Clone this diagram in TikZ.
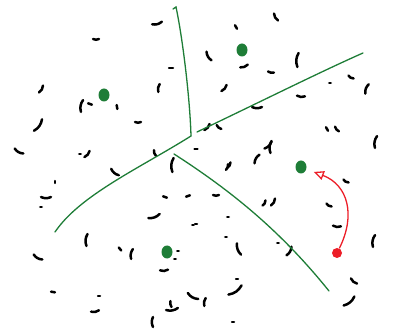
\documentclass[tikz,border=0pt]{standalone}
\usepackage{tikz}
\usetikzlibrary{arrows.meta,shapes.geometric}

\definecolor{cgreen}{RGB}{30,125,55}
\definecolor{cred}{RGB}{236,30,40}

\begin{document}
\begin{tikzpicture}[x=1pt, y=1pt, >={Triangle[open,length=10pt,width=9pt]},
  datum/.style={line width=2.5pt, line cap=round},
  border/.style={cgreen, line width=1.3pt, line cap=round},
  centroid/.style={ellipse, fill=cgreen, minimum width=11pt, minimum height=13pt, inner sep=0pt},
  sample/.style={circle, fill=cred, minimum size=10pt, inner sep=0pt},
  move/.style={->, cred, line width=1.3pt}]
  \useasboundingbox (0,0) rectangle (394,-334);

  % Data points (short hand strokes)
  \foreach \x/\y/\a/\l in {157/23/15/5, 96/39/0/3, 171/68/0/2, 159/88/-100/4,
      41/89/60/4, 82/106/-100/6, 90/104/-20/2, 117/107/-80/2, 138/122/0/3,
      38/125/55/7, 19/151/-30/5, 80/154/0/0.8, 87/154/50/4, 155/153/-70/3,
      196/149/0/1.5, 173/165/-95/7, 276/17/-60/4, 236/27/-60/2, 209/56/-60/5,
      244/66/20/4, 298/60/-95/7, 271/72/-10/3, 224/88/50/4, 330/83/0/0.8,
      351/77/-30/3, 367/89/-110/5, 301/96/-5/4, 257/107/0/5, 207/127/50/4,
      219/127/-40/3, 327/129/-60/2, 337/129/-50/3, 376/142/-100/6,
      271/147/-95/6, 268/145/45/5, 257/159/-120/5, 229/165/60/3,
      115/172/-40/5, 55/182/-90/1, 46/197/0/5, 41/207/0/0.8, 165/197/-20/2,
      188/196/20/2, 154/216/20/6, 193/225/0/0.8, 87/240/-95/6, 38/257/-30/5,
      120/249/-50/2, 132/254/-100/5, 178/251/0/0.8, 175/259/0/0.8,
      164/270/5/4, 53/292/-10/2, 99/296/0/1, 95/311/10/4, 172/309/10/6,
      171/304/-80/3, 193/296/-30/6, 205/302/-100/4, 235/290/35/8,
      153/322/-90/5, 233/322/0/1, 227/167/70/3, 346/181/-30/3, 216/195/0/3,
      264/203/60/3, 273/202/60/4, 329/205/-30/3, 228/217/0/0.8,
      337/226/-5/4, 196/224/0/1, 226/237/0/0.8, 239/249/-70/6,
      278/243/0/0.8, 289/251/60/5, 374/241/-100/6, 237/279/0/1,
      354/281/-40/4, 349/301/40/7}
    \draw[datum] (\x,-\y) ++(\a:\l) to[bend left=25] ++({\a+180}:{2*\l});

  % Cell borders
  \coordinate (top) at (176,-7);
  \coordinate (j) at (191,-136);
  \coordinate (ne) at (363,-53);
  \coordinate (sw) at (55,-232);
  \coordinate (sk) at (174,-154);
  \coordinate (se) at (329,-291);
  \draw[border] (173,-9) -- (top) .. controls (183,-40) and (190,-100) .. (j);
  \draw[border] (j) .. controls (140,-168) and (80,-195) .. (sw);
  \draw[border] (197,-132) .. controls (260,-102) and (320,-72) .. (ne);
  \draw[border] (sk) .. controls (230,-190) and (280,-230) .. (se);

  % Centroids
  \node[centroid] (c1) at (104,-95) {};
  \node[centroid] (c2) at (242,-50) {};
  \node[centroid] (c3) at (301,-167) {};
  \node[centroid] (c4) at (167,-252) {};

  % Reassigned sample
  \node[sample] (p) at (337,-253) {};
  \draw[move, shorten >=8pt] (p) .. controls (356,-215) and (348,-185) .. (c3);
\end{tikzpicture}
\end{document}
